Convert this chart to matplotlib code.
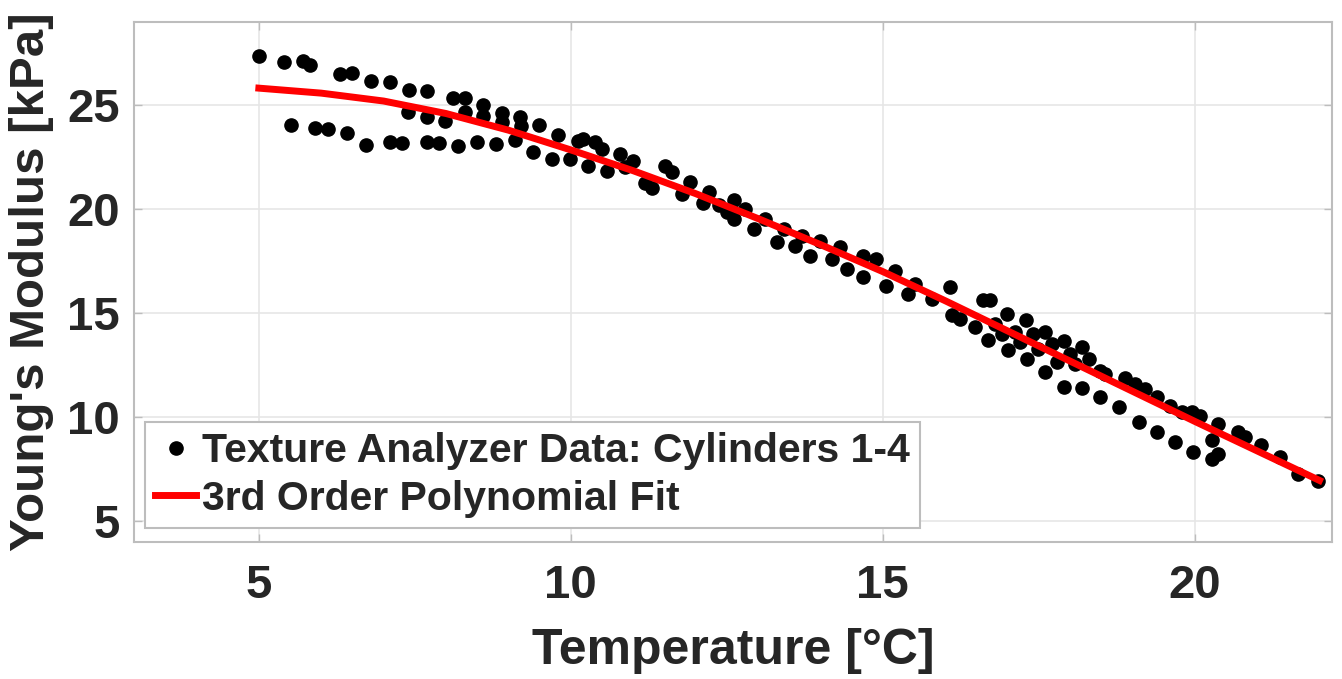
"""Young's modulus of the gel cylinders versus temperature, with a cubic fit."""

import matplotlib
matplotlib.use("Agg")
import matplotlib.pyplot as plt

# texture analyzer readings, cylinders 1-4 pooled  (deg C, kPa)
temp_c = [
    5.00, 5.41, 5.51, 5.70, 5.82, 5.90, 6.11, 6.30, 6.41, 6.50,
    6.71, 6.80, 7.10, 7.10, 7.30, 7.39, 7.40, 7.69, 7.69, 7.69,
    7.89, 7.99, 8.12, 8.20, 8.30, 8.31, 8.49, 8.60, 8.60, 8.80,
    8.89, 8.89, 9.10, 9.19, 9.20, 9.40, 9.49, 9.70, 9.79, 9.99,
    10.12, 10.20, 10.28, 10.39, 10.50, 10.58, 10.79, 10.87, 11.00, 11.19,
    11.30, 11.51, 11.62, 11.78, 11.91, 12.12, 12.21, 12.37, 12.50, 12.61,
    12.61, 12.79, 12.93, 13.11, 13.30, 13.41, 13.59, 13.70, 13.84, 14.00,
    14.18, 14.32, 14.42, 14.69, 14.69, 14.90, 15.06, 15.20, 15.41, 15.52,
    15.79, 16.08, 16.11, 16.24, 16.48, 16.61, 16.69, 16.72, 16.80, 16.91,
    16.99, 17.01, 17.12, 17.20, 17.29, 17.31, 17.41, 17.49, 17.60, 17.60,
    17.71, 17.79, 17.90, 17.90, 18.00, 18.08, 18.19, 18.19, 18.30, 18.48,
    18.48, 18.56, 18.78, 18.89, 19.04, 19.10, 19.20, 19.39, 19.39, 19.60,
    19.69, 19.79, 19.95, 19.98, 20.08, 20.27, 20.27, 20.38, 20.38, 20.70,
    20.81, 21.07, 21.37, 21.66, 21.98,
]
modulus_kpa = [
    27.36, 27.07, 24.05, 27.13, 26.94, 23.89, 23.86, 26.52, 23.67, 26.55,
    23.10, 26.14, 26.10, 23.22, 23.19, 24.66, 25.72, 25.69, 24.42, 23.22,
    23.19, 24.26, 25.34, 23.06, 24.66, 25.37, 23.25, 25.01, 24.50, 23.13,
    24.63, 24.18, 23.32, 24.42, 24.02, 22.74, 24.05, 22.42, 23.57, 22.42,
    23.30, 23.38, 22.10, 23.22, 22.90, 21.86, 22.66, 22.02, 22.34, 21.26,
    21.02, 22.10, 21.78, 20.74, 21.30, 20.30, 20.82, 20.18, 19.86, 20.42,
    19.53, 20.01, 19.05, 19.53, 18.41, 19.05, 18.25, 18.73, 17.77, 18.49,
    17.61, 18.17, 17.13, 17.77, 16.73, 17.61, 16.33, 17.05, 15.93, 16.41,
    15.70, 16.25, 14.89, 14.73, 14.33, 15.61, 13.69, 15.61, 14.49, 14.01,
    14.97, 13.21, 14.09, 13.61, 14.65, 12.80, 14.01, 13.28, 14.09, 12.16,
    13.52, 12.64, 13.64, 11.44, 13.04, 12.56, 13.36, 11.40, 12.80, 12.24,
    10.96, 12.08, 10.48, 11.88, 11.60, 9.76, 11.36, 10.96, 9.28, 10.56,
    8.80, 10.27, 10.24, 8.35, 10.08, 8.88, 8.00, 8.24, 9.68, 9.28,
    9.04, 8.64, 8.08, 7.27, 6.91,
]

# red fit curve, one value per degree
fit_temp_c = [5, 6, 7, 8, 9, 10, 11, 12, 13, 14, 15, 16, 17, 18, 19, 20, 21, 22]
fit_modulus_kpa = [25.82, 25.58, 25.20, 24.60, 23.80, 22.85, 21.85, 20.75, 19.55,
                   18.30, 17.00, 15.60, 14.15, 12.70, 11.25, 9.80, 8.38, 6.96]

x_ticks = [5, 10, 15, 20]
y_ticks = [5, 10, 15, 20, 25]

plt.rcParams['font.family'] = ['Liberation Sans', 'DejaVu Sans']
plt.rcParams['font.weight'] = 'bold'
txt = '#262626'

fig = plt.figure(figsize=(13.42, 6.79), dpi=100)
ax = fig.add_axes([0.0999, 0.2018, 0.8926, 0.7658])

ax.plot(temp_c, modulus_kpa, 'o', color='black', markersize=9.5,
        label='Texture Analyzer Data: Cylinders 1-4', zorder=3)
ax.plot(fit_temp_c, fit_modulus_kpa, '-', color='#ff0000', lw=5,
        label='3rd Order Polynomial Fit', zorder=4)

ax.set_xlim(3, 22.2)
ax.set_ylim(4, 29)
ax.set_xticks(x_ticks)
ax.set_yticks(y_ticks)
ax.grid(True, color='#e6e6e6', lw=1.2)
ax.set_axisbelow(True)
for s in ax.spines.values():
    s.set_color('#bdbdbd')
    s.set_linewidth(1.5)
ax.tick_params(direction='in', length=6, width=1, color='#bdbdbd',
               top=True, right=True, labelsize=34, labelcolor=txt)
ax.tick_params(axis='x', pad=16)
ax.tick_params(axis='y', pad=10)
for lab in ax.get_xticklabels() + ax.get_yticklabels():
    lab.set_fontweight('bold')

ax.set_xlabel('Temperature [°C]', fontsize=36, fontweight='bold', color=txt,
              labelpad=14)
ax.set_ylabel("Young's Modulus [kPa]", fontsize=35.5, fontweight='bold', color=txt,
              labelpad=10)

leg = ax.legend(loc='lower left', bbox_to_anchor=(0.009, 0.027),
                borderaxespad=0, fancybox=False, framealpha=1,
                edgecolor='#bdbdbd', handlelength=1.0, handletextpad=0.15,
                labelspacing=0.24, borderpad=0.25,
                prop={'size': 29.5, 'weight': 'bold'})
leg.get_frame().set_linewidth(1.5)
for t in leg.get_texts():
    t.set_color(txt)

fig.savefig('out.png', dpi=100)
